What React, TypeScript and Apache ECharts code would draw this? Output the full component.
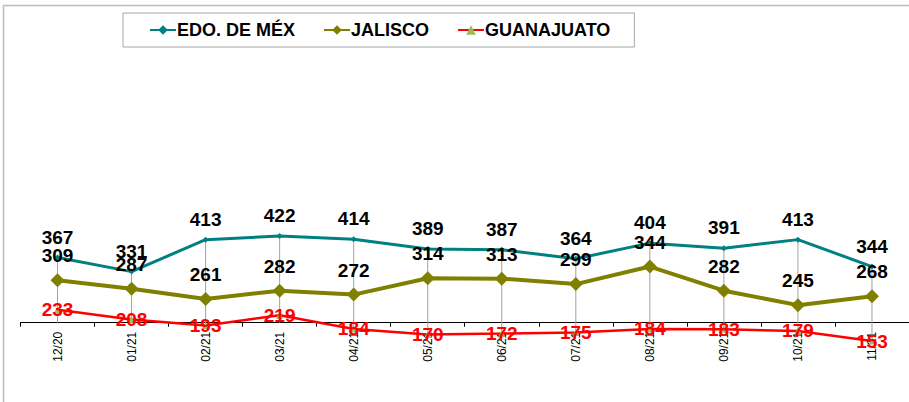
import React, { useEffect, useRef } from "react";
import * as echarts from "echarts";

const categories = ["12/20", "01/21", "02/21", "03/21", "04/21", "05/21", "06/21", "07/21", "08/21", "09/21", "10/21", "11/21"];
const edoMex = [367, 331, 413, 422, 414, 389, 387, 364, 404, 391, 413, 344];
const jalisco = [309, 287, 261, 282, 272, 314, 313, 299, 344, 282, 245, 268];
const guanajuato = [233, 208, 193, 219, 184, 170, 172, 175, 184, 183, 179, 153];
const axisCross = 200;

const FONT = "'Liberation Sans', Arial, sans-serif";

export default function App() {
  const ref = useRef<HTMLDivElement>(null);
  useEffect(() => {
    if (!ref.current) return;
    const chart = echarts.init(ref.current, undefined, { renderer: "svg" });
    const dropData = categories.map((_, i) => {
      const vals = [edoMex[i], jalisco[i], guanajuato[i]];
      return [i, Math.max(...vals, axisCross), Math.min(...vals, axisCross)];
    });
    const labelBlack = {
      show: true,
      position: "top" as const,
      distance: 8,
      color: "#000",
      fontWeight: "bold" as const,
      fontSize: 19,
      fontFamily: FONT,
    };
    chart.setOption({
      animation: false,
      backgroundColor: "#fff",
      textStyle: { fontFamily: FONT },
      graphic: [
        {
          type: "rect",
          shape: { x: 3.5, y: 5.5, width: 1200, height: 1200 },
          style: { fill: "none", stroke: "#bdbdbd", lineWidth: 1.5 },
          silent: true,
          z: -10,
        },
      ],
      legend: {
        left: 123,
        top: 13,
        padding: [8, 24, 8, 26],
        itemGap: 28,
        itemWidth: 26,
        itemHeight: 12,
        borderColor: "#a6a6a6",
        borderWidth: 1,
        textStyle: { fontSize: 18, fontWeight: "bold", color: "#000", fontFamily: FONT, padding: [0, 0, 0, -4] },
        data: ["EDO. DE MÉX", "JALISCO", "GUANAJUATO"],
      },
      grid: { left: 20.5, right: -11.5, top: 49.7, bottom: 79.3 },
      xAxis: {
        type: "category",
        data: categories,
        boundaryGap: true,
        axisLine: { show: true, onZero: false, lineStyle: { color: "#000", width: 1 } },
        axisTick: { show: true, length: 4, inside: false, lineStyle: { color: "#000" } },
        axisLabel: { rotate: 90, margin: 9, fontSize: 12, color: "#000", fontFamily: FONT },
        splitLine: { show: false },
      },
      yAxis: {
        type: "value",
        min: 200,
        max: 900,
        show: false,
        splitLine: { show: false },
      },
      series: [
        {
          type: "custom",
          silent: true,
          z: 1,
          data: dropData,
          renderItem: (params: any, api: any) => {
            const i = api.value(0);
            const p1 = api.coord([i, api.value(1)]);
            const p2 = api.coord([i, api.value(2)]);
            return {
              type: "line",
              shape: { x1: p1[0], y1: p1[1], x2: p2[0], y2: p2[1] },
              style: { stroke: "#a0a0a0", lineWidth: 1 },
            };
          },
        },
        {
          name: "EDO. DE MÉX",
          type: "line",
          data: edoMex,
          clip: false,
          z: 3,
          symbol: "diamond",
          symbolSize: 6,
          itemStyle: { color: "#008080" },
          lineStyle: { color: "#008080", width: 3 },
          label: labelBlack,
        },
        {
          name: "JALISCO",
          type: "line",
          data: jalisco,
          clip: false,
          z: 3,
          symbol: "diamond",
          symbolSize: 14,
          itemStyle: { color: "#808000" },
          lineStyle: { color: "#808000", width: 4 },
          label: labelBlack,
        },
        {
          name: "GUANAJUATO",
          type: "line",
          data: guanajuato,
          clip: false,
          z: 3,
          symbol: "triangle",
          symbolSize: 7,
          itemStyle: { color: "#9bbb59" },
          lineStyle: { color: "#ff0000", width: 2.5 },
          label: { ...labelBlack, position: "inside", color: "#ff0000" },
        },
      ],
    });
    return () => chart.dispose();
  }, []);
  return <div ref={ref} style={{ position: "absolute", left: 0, top: 0, width: 909, height: 402 }} />;
}
